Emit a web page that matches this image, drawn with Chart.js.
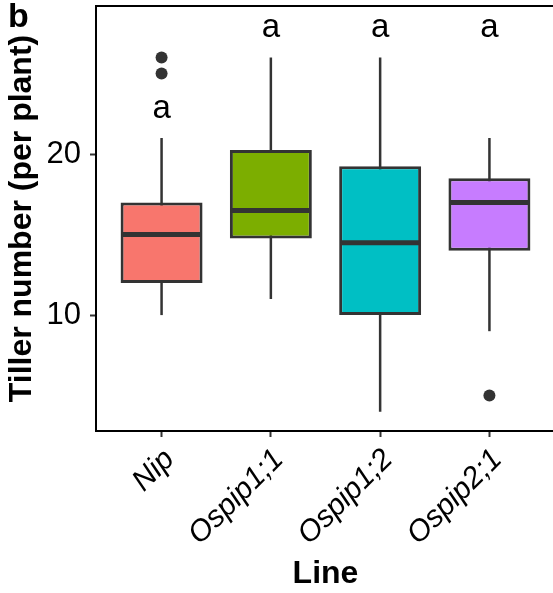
<html>
  <head>
    <script src="https://cdn.jsdelivr.net/npm/chart.js"></script>
    <meta charset="UTF-8" />
    <style>
      body { margin: 0; overflow: hidden; background: #fff; }
      #wrap { width: 561px; height: 593px; }
    </style>
  </head>
  <body>
    <div id="wrap">
      <canvas id="myChart" width="561" height="593"></canvas>
    </div>
    <script>
      // tiller counts per line: box-and-whisker summaries
      const lines = ["Nip", "Ospip1;1", "Ospip1;2", "Ospip2;1"];
      const whiskerLow = [10, 11, 4, 9];
      const q1 = [12, 14.75, 10, 14];
      const median = [15, 16.5, 14.5, 17];
      const q3 = [17, 20.25, 19.25, 18.5];
      const whiskerHigh = [21, 26, 26, 21];
      const outliers = [[25, 26], [], [], [5]];
      const groupLetters = ["a", "a", "a", "a"];
      const letterHeight = [23, 28, 28, 28];
      const boxColors = ["#F8766D", "#7CAE00", "#00BFC4", "#C77CFF"];
      const yTicks = [10, 20];

      const FONT = "'Liberation Sans', Arial, Helvetica, sans-serif";
      const DARK = "#333333";

      const boxData = lines.map((l, i) => ({ x: i + 1, y: [q1[i], q3[i]] }));
      const outlierData = [];
      outliers.forEach((vals, i) => {
        vals.forEach(v => outlierData.push({ x: i + 1, y: v }));
      });

      const boxExtras = {
        id: "boxExtras",
        beforeDatasetsDraw(chart) {
          // whiskers sit behind the boxes
          const { ctx, scales: { x, y } } = chart;
          ctx.save();
          ctx.strokeStyle = DARK;
          ctx.lineWidth = 2.5;
          lines.forEach((l, i) => {
            const px = x.getPixelForValue(i + 1);
            ctx.beginPath();
            ctx.moveTo(px, y.getPixelForValue(whiskerLow[i]));
            ctx.lineTo(px, y.getPixelForValue(whiskerHigh[i]));
            ctx.stroke();
          });
          ctx.restore();
        },
        afterDatasetsDraw(chart) {
          const { ctx, scales: { x, y }, chartArea } = chart;
          const bars = chart.getDatasetMeta(0).data;
          ctx.save();
          // medians
          ctx.strokeStyle = DARK;
          ctx.lineWidth = 5;
          bars.forEach((bar, i) => {
            const py = y.getPixelForValue(median[i]);
            ctx.beginPath();
            ctx.moveTo(bar.x - bar.width / 2 + 1, py);
            ctx.lineTo(bar.x + bar.width / 2 - 1, py);
            ctx.stroke();
          });
          // top and right frame lines
          ctx.strokeStyle = "#000";
          ctx.lineWidth = 2;
          ctx.beginPath();
          ctx.moveTo(chartArea.left, chartArea.top);
          ctx.lineTo(chartArea.right, chartArea.top);
          ctx.lineTo(chartArea.right, chartArea.bottom);
          ctx.stroke();
          // significance letters (glyph box centred on the value)
          ctx.fillStyle = "#000";
          ctx.font = "33px " + FONT;
          ctx.textAlign = "center";
          ctx.textBaseline = "middle";
          groupLetters.forEach((t, i) => {
            ctx.fillText(t, x.getPixelForValue(i + 1), y.getPixelForValue(letterHeight[i]) + 3);
          });
          ctx.restore();
        },
        afterDraw(chart) {
          const { ctx } = chart;
          ctx.save();
          ctx.fillStyle = "#000";
          ctx.font = "bold 34px " + FONT;
          ctx.textAlign = "left";
          ctx.textBaseline = "alphabetic";
          ctx.fillText("b", 8, 27);
          ctx.restore();
        },
      };

      const config = {
        type: "bar",
        data: {
          datasets: [
            {
              type: "bar",
              data: boxData,
              backgroundColor: boxColors,
              borderColor: DARK,
              borderWidth: 3,
              borderSkipped: false,
              barPercentage: 0.75,
              categoryPercentage: 1,
            },
            {
              type: "scatter",
              data: outlierData,
              pointRadius: 6,
              pointBackgroundColor: DARK,
              pointBorderWidth: 0,
            },
          ],
        },
        options: {
          responsive: false,
          animation: false,
          layout: { padding: { top: 6, right: 4, left: 0, bottom: 0 } },
          plugins: {
            legend: { display: false },
            tooltip: { enabled: false },
          },
          scales: {
            x: {
              type: "linear",
              min: 0.4,
              max: 4.6,
              offset: false,
              afterBuildTicks: scale => {
                scale.ticks = lines.map((l, i) => ({ value: i + 1 }));
              },
              afterFit: scale => {
                scale.height = 162;
                scale.paddingLeft = 0;
                scale.paddingRight = 0;
              },
              ticks: {
                autoSkip: false,
                minRotation: 45,
                maxRotation: 45,
                padding: 5,
                labelOffset: 8,
                color: "#000",
                font: { family: FONT, size: 30, style: "italic" },
                callback: value => lines[Math.round(value) - 1],
              },
              grid: {
                display: true,
                drawOnChartArea: false,
                tickLength: 6,
                tickColor: DARK,
                tickWidth: 2,
                offset: false,
              },
              border: { display: true, color: "#000", width: 2 },
              title: {
                display: true,
                text: "Line",
                color: "#000",
                font: { family: FONT, size: 32, weight: "bold" },
                padding: { top: 0, bottom: 0 },
              },
            },
            y: {
              min: 2.8,
              max: 29.2,
              afterBuildTicks: scale => {
                scale.ticks = yTicks.map(v => ({ value: v }));
              },
              afterFit: scale => {
                scale.width = 96;
                scale.paddingTop = 0;
                scale.paddingBottom = 0;
              },
              ticks: {
                padding: 9,
                color: "#000",
                font: { family: FONT, size: 31 },
              },
              grid: {
                display: true,
                drawOnChartArea: false,
                tickLength: 6,
                tickColor: DARK,
                tickWidth: 2,
              },
              border: { display: true, color: "#000", width: 2 },
              title: {
                display: true,
                text: "Tiller number (per plant)",
                color: "#000",
                font: { family: FONT, size: 32, weight: "bold" },
                padding: { top: 3, bottom: 0 },
              },
            },
          },
        },
        plugins: [boxExtras],
      };

      new Chart(document.getElementById("myChart"), config);
    </script>
  </body>
</html>
